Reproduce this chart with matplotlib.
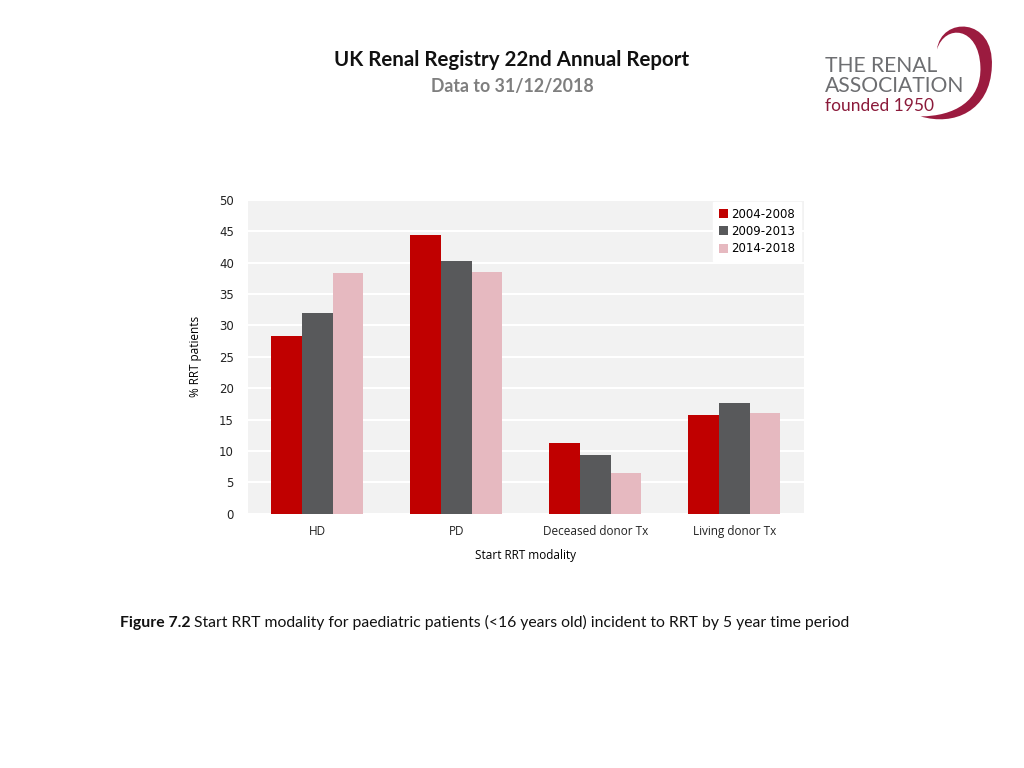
import numpy as np
import matplotlib
matplotlib.use("Agg")
import matplotlib.pyplot as plt
from matplotlib.patches import PathPatch
from matplotlib.path import Path

# data
modalities = ["HD", "PD", "Deceased donor Tx", "Living donor Tx"]
periods = ["2004-2008", "2009-2013", "2014-2018"]
vals_2004 = [28.3, 44.3, 11.3, 15.8]
vals_2009 = [32.0, 40.3, 9.4, 17.7]
vals_2014 = [38.4, 38.5, 6.5, 16.1]
colors = ["#c00000", "#58595b", "#e6b9c0"]
yticks = [0, 5, 10, 15, 20, 25, 30, 35, 40, 45, 50]

fig = plt.figure(figsize=(10.24, 7.68), dpi=100)
fig.patch.set_facecolor("white")

# header
fig.text(0.5, 0.922, "UK Renal Registry 22nd Annual Report", ha="center", va="center",
         fontsize=14.8, fontweight="bold", family="Lato", color="#111111")
fig.text(0.5, 0.888, "Data to 31/12/2018", ha="center", va="center",
         fontsize=12.8, fontweight="bold", family="Lato", color="#7f7f7f")

# logo
fig.text(0.806, 0.914, "THE RENAL", ha="left", va="center", fontsize=15.2,
         family="Lato", color="#6d6e71")
fig.text(0.806, 0.888, "ASSOCIATION", ha="left", va="center", fontsize=15.2,
         family="Lato", color="#6d6e71")
fig.text(0.806, 0.862, "founded 1950", ha="left", va="center", fontsize=12.5,
         family="Lato", color="#8b1a3a")
logo_ax = fig.add_axes([0.895, 0.842, 0.08, 0.13])
logo_ax.set_xlim(0, 1)
logo_ax.set_ylim(0, 1)
logo_ax.axis("off")
verts = [(0.25, 0.72), (0.30, 1.05), (0.95, 1.05), (0.92, 0.55),
         (0.90, 0.10), (0.45, -0.05), (0.05, 0.05),
         (0.45, 0.05), (0.80, 0.20), (0.78, 0.55),
         (0.76, 0.95), (0.35, 0.98), (0.25, 0.72)]
codes = [Path.MOVETO, Path.CURVE4, Path.CURVE4, Path.CURVE4,
         Path.CURVE4, Path.CURVE4, Path.CURVE4,
         Path.CURVE4, Path.CURVE4, Path.CURVE4,
         Path.CURVE4, Path.CURVE4, Path.CURVE4]
logo_ax.add_patch(PathPatch(Path(verts, codes), facecolor="#9b1b3f", edgecolor="none"))

# chart
ax = fig.add_axes([0.242, 0.331, 0.543, 0.409])
ax.set_facecolor("#f2f2f2")
x = np.arange(len(modalities))
w = 0.22
for i, (vals, lab) in enumerate(zip([vals_2004, vals_2009, vals_2014], periods)):
    ax.bar(x + (i - 1) * w, vals, width=w, color=colors[i], label=lab, zorder=3)

ax.set_xlim(-0.5, len(modalities) - 0.5)
ax.set_ylim(0, 50)
ax.set_yticks(yticks)
ax.yaxis.grid(True, color="white", linewidth=1.5, zorder=0)
ax.set_axisbelow(True)
for s in ax.spines.values():
    s.set_visible(False)
ax.tick_params(axis="y", length=0, labelsize=8.5, colors="#222222", pad=10)
ax.tick_params(axis="x", length=0, colors="#222222", pad=8)
ax.set_xticks(x)
ax.set_xticklabels(modalities, family="Open Sans", fontsize=8.5)
ax.set_ylabel("% RRT patients", family="Open Sans", fontsize=8.5, labelpad=12)
ax.set_xlabel("Start RRT modality", family="Open Sans", fontsize=8.5, labelpad=8)

leg = ax.legend(loc="upper right", frameon=True, fancybox=False, fontsize=8.5,
                handlelength=0.8, handleheight=0.8, handletextpad=0.3,
                borderpad=0.5, labelspacing=0.35, borderaxespad=0.2)
leg.get_frame().set_facecolor("white")
leg.get_frame().set_edgecolor("white")
leg.get_frame().set_alpha(1)

# caption: bold lead-in followed by regular text
cap_bold = fig.text(0.117, 0.189, "Figure 7.2", ha="left", va="center", fontsize=11.3,
                    family="Lato", fontweight="bold", color="#111111")
fig.canvas.draw()
bb = cap_bold.get_window_extent(renderer=fig.canvas.get_renderer())
x_after = (bb.x1 + 4) / fig.bbox.width
fig.text(x_after, 0.189,
         "Start RRT modality for paediatric patients (<16 years old) incident to RRT by 5 year time period",
         ha="left", va="center", fontsize=11.3, family="Lato", color="#111111")

fig.savefig("out.png", dpi=100)
